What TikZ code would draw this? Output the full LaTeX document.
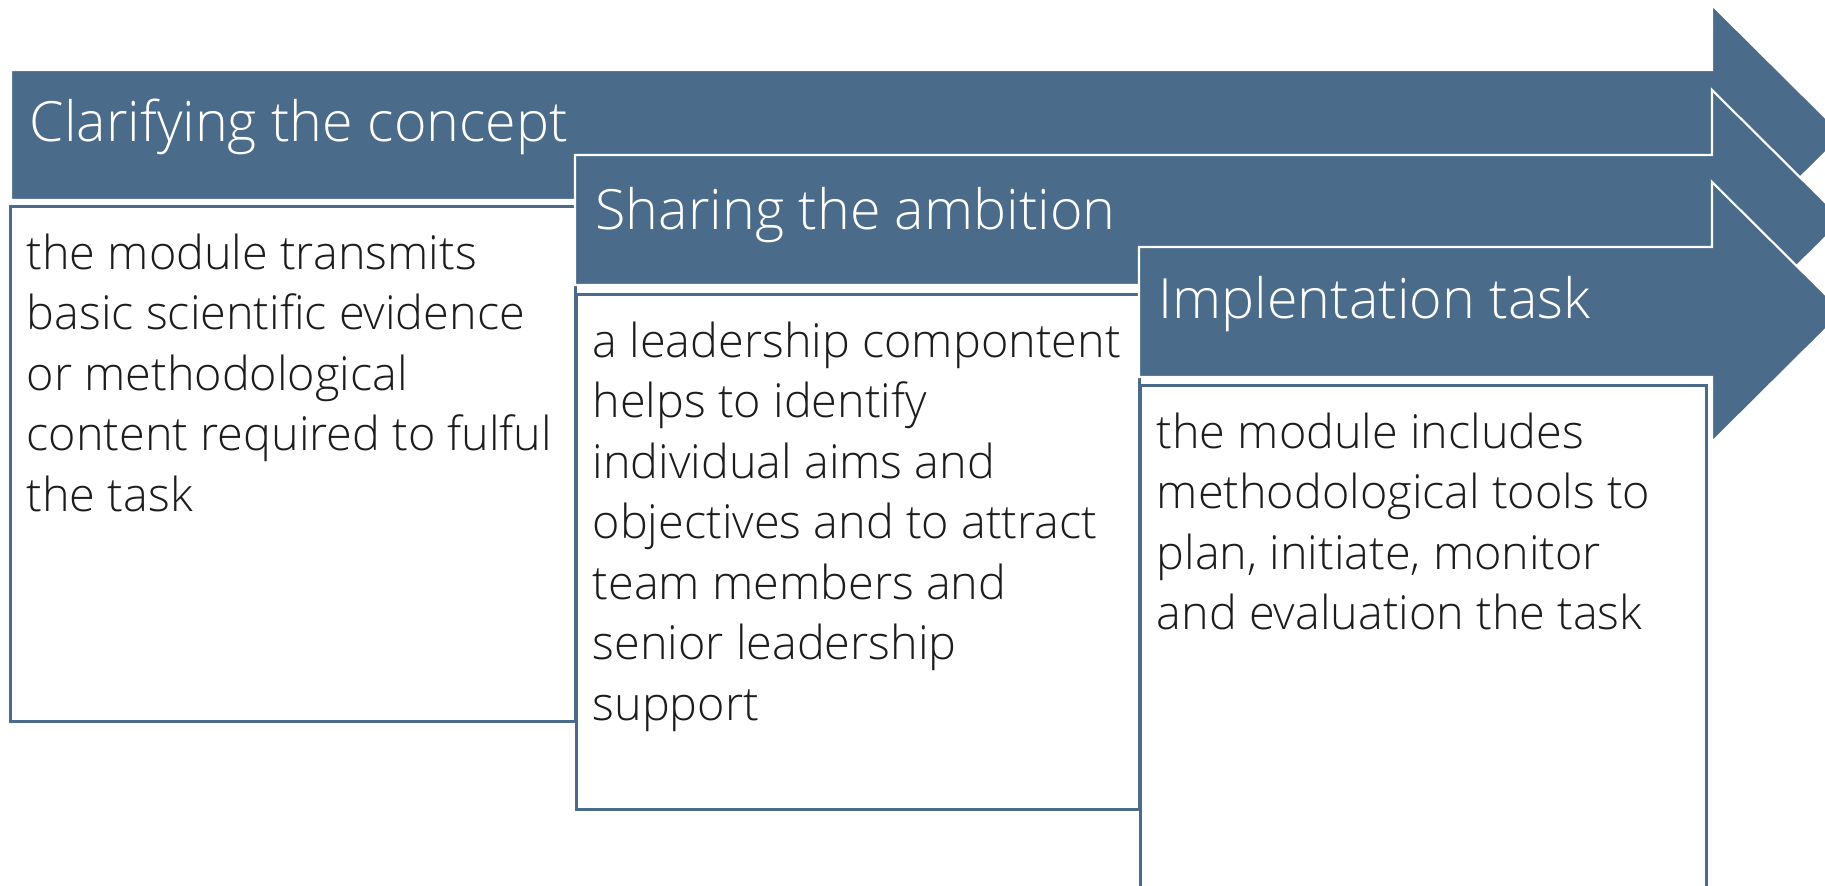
\documentclass[tikz,border=0pt]{standalone}
\usepackage{fontspec}
\setmainfont{Open Sans Light}
\usetikzlibrary{positioning}
\definecolor{stageblue}{RGB}{74,107,137}
\definecolor{inkgray}{RGB}{28,28,28}
\tikzset{
  stage/.style={fill=stageblue,draw=white,line width=0.6pt,line join=miter},
  descbox/.style={draw=stageblue,fill=white,line width=0.75pt,minimum width=5.65cm,minimum height=5.15cm,anchor=north west,inner sep=0pt},
  heading/.style={anchor=base west,text=white,inner sep=0pt,font=\fontsize{15.8}{19}\selectfont},
  desc/.style={anchor=north west,align=left,text=inkgray,inner sep=0pt,font=\fontsize{13.3}{17.2}\selectfont}
}
% shaft from #1 to the head, shaft top at #2
\newcommand{\stagearrow}[2]{%
  \draw[stage] (#1,#2) -- (1712,#2) -- (1712,#2-65) -- (1843,#2+65)
    -- (1712,#2+195) -- (1712,#2+130) -- (#1,#2+130) -- cycle;}

\begin{document}
\begin{tikzpicture}[x=0.01cm,y=-0.01cm]
\useasboundingbox (0,0) rectangle (1825,886);
\clip (0,0) rectangle (1825,886);

% first stage
\stagearrow{11}{70}
\node[heading] (h1) at (29,142) {Clarifying the concept};
\node[descbox] (box1) at (9,205) {};
\node[desc,below right=0.28cm and 0.17cm of box1.north west] (t1)
  {the module transmits\\basic scientific evidence\\or methodological\\content required to fulful\\the task};

% second stage
\stagearrow{575}{155}
\node[heading] (h2) at (595,230) {Sharing the ambition};
\node[descbox,minimum width=5.63cm] (box2) at (575,293) {};
\node[desc,below right=0.28cm and 0.17cm of box2.north west] (t2)
  {a leadership compontent\\helps to identify\\individual aims and\\objectives and to attract\\team members and\\senior leadership\\support};

% third stage
\stagearrow{1139}{247}
\node[heading] (h3) at (1158,319) {Implentation task};
\node[descbox,minimum width=5.66cm] (box3) at (1139,384) {};
\node[desc,below right=0.28cm and 0.17cm of box3.north west] (t3)
  {the module includes\\methodological tools to\\plan, initiate, monitor\\and evaluation the task};
\end{tikzpicture}
\end{document}
